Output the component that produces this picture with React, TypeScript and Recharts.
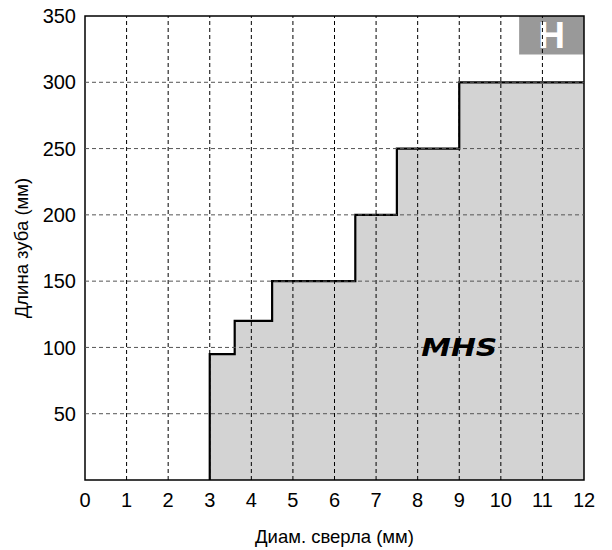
import {
  AreaChart,
  Area,
  XAxis,
  YAxis,
  ReferenceLine,
  ReferenceArea,
  ReferenceDot,
} from "recharts";

// drill diameter (mm) and tooth length (mm), stepped
const diameters = [3, 3, 3.6, 4.5, 6.5, 7.5, 9, 12];
const toothLengths = [0, 95, 120, 150, 200, 250, 300, 300];

const xTicks = [0, 1, 2, 3, 4, 5, 6, 7, 8, 9, 10, 11, 12];
const yTicks = [50, 100, 150, 200, 250, 300, 350];
const xGrid = [1, 2, 3, 4, 5, 6, 7, 8, 9, 10, 11];
const yGrid = [50, 100, 150, 200, 250, 300];

const data = diameters.map((d, i) => ({ d, len: toothLengths[i] }));

const FONT = "'Liberation Sans', Arial, sans-serif";

const XTitle = ({ viewBox }: any) => (
  <text
    x={viewBox.x + viewBox.width / 2}
    y={543}
    textAnchor="middle"
    fontSize={18.5}
    fontFamily={FONT}
    fill="#000"
  >
    Диам. сверла (мм)
  </text>
);

const YTitle = ({ viewBox }: any) => {
  const cy = viewBox.y + viewBox.height / 2;
  return (
    <text
      x={28}
      y={cy}
      transform={`rotate(-90, 28, ${cy})`}
      textAnchor="middle"
      fontSize={18.5}
      fontFamily={FONT}
      fill="#000"
    >
      Длина зуба (мм)
    </text>
  );
};

const Badge = ({ viewBox }: any) => (
  <text
    x={viewBox.x + viewBox.width / 2}
    y={viewBox.y + viewBox.height / 2 + 13}
    textAnchor="middle"
    fontSize={37}
    fontWeight="bold"
    fontFamily={FONT}
    fill="#fff"
  >
    H
  </text>
);

const MhsLabel = ({ cx, cy }: any) => (
  <text
    x={cx}
    y={cy + 9}
    textAnchor="middle"
    fontSize={25}
    fontWeight="bold"
    fontStyle="italic"
    fontFamily="'DejaVu Sans', sans-serif"
    textLength={76}
    lengthAdjust="spacingAndGlyphs"
    fill="#000"
  >
    MHS
  </text>
);

export default function App() {
  return (
    <div style={{ position: "absolute", left: 0, top: 0 }}>
      <AreaChart
        width={612}
        height={550}
        data={data}
        margin={{ top: 16, right: 28, bottom: 0, left: 8 }}
      >
        <XAxis
          dataKey="d"
          type="number"
          domain={[0, 12]}
          ticks={xTicks}
          interval={0}
          axisLine={false}
          tickLine={false}
          tickSize={0}
          tickMargin={13}
          height={70}
          tick={{ fill: "#000", fontSize: 20, fontFamily: FONT }}
          label={<XTitle />}
        />
        <YAxis
          type="number"
          domain={[0, 350]}
          ticks={yTicks}
          interval={0}
          axisLine={false}
          tickLine={false}
          tickSize={0}
          tickMargin={9}
          width={77}
          tick={{ fill: "#000", fontSize: 20, fontFamily: FONT }}
          label={<YTitle />}
        />
        <Area
          type="stepAfter"
          dataKey="len"
          stroke="#000"
          strokeWidth={2.2}
          fill="#d3d3d3"
          fillOpacity={1}
          baseValue={0}
          dot={false}
          activeDot={false}
          isAnimationActive={false}
        />
        {xGrid.map((v) => (
          <ReferenceLine
            key={`x${v}`}
            x={v}
            stroke="#000"
            strokeWidth={1}
            strokeDasharray="4 3"
          />
        ))}
        {yGrid.map((v) => (
          <ReferenceLine
            key={`y${v}`}
            y={v}
            stroke="#555"
            strokeWidth={1}
            strokeDasharray="4 3"
          />
        ))}
        <ReferenceArea
          x1={10.44}
          x2={12}
          y1={321}
          y2={350}
          fill="#999"
          fillOpacity={1}
          stroke="none"
          label={<Badge />}
        />
        <ReferenceDot x={9} y={100} r={0} shape={<MhsLabel />} />
        <ReferenceArea
          x1={0}
          x2={12}
          y1={0}
          y2={350}
          fill="none"
          stroke="#000"
          strokeWidth={1.5}
        />
      </AreaChart>
    </div>
  );
}
